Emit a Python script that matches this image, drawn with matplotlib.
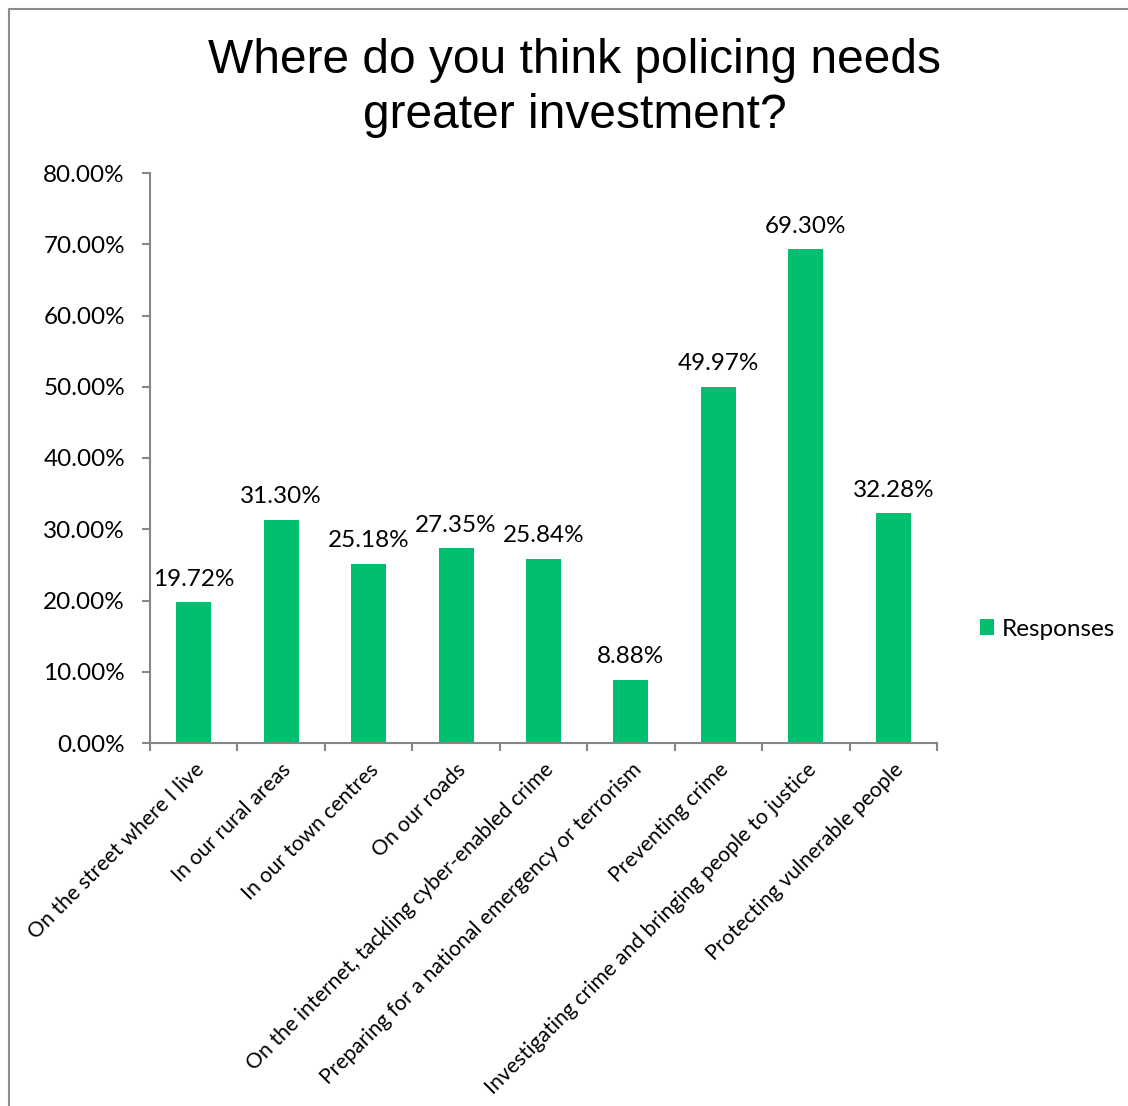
import matplotlib.pyplot as plt
import numpy as np
from matplotlib.lines import Line2D

categories = [
    "On the street where I live",
    "In our rural areas",
    "In our town centres",
    "On our roads",
    "On the internet, tackling cyber-enabled crime",
    "Preparing for a national emergency or terrorism",
    "Preventing crime",
    "Investigating crime and bringing people to justice",
    "Protecting vulnerable people",
]
responses = [19.72, 31.30, 25.18, 27.35, 25.84, 8.88, 49.97, 69.30, 32.28]
yticks = [0, 10, 20, 30, 40, 50, 60, 70, 80]

W, H = 1128, 1106
green = "#00BF6F"
grey = "#868686"
lab_font = "Lato"

fig = plt.figure(figsize=(W / 100, H / 100), dpi=100)
ax = fig.add_axes([150 / W, 1 - 743 / H, (937 - 150) / W, (743 - 173) / H])

x = np.arange(len(categories))
bars = ax.bar(x, responses, width=0.4, color=green, label="Responses")

for xi, v in zip(x, responses):
    ax.annotate(f"{v:.2f}%", (xi, v), xytext=(0, 9), textcoords="offset points",
                ha="center", va="bottom", fontsize=17.5, family=lab_font)

ax.set_xlim(-0.5, len(categories) - 0.5)
ax.set_ylim(0, 80)
ax.set_yticks(yticks)
ax.set_yticklabels([f"{t:.2f}%" for t in yticks], fontsize=17.5, family=lab_font)

# category boundaries as tick marks, labels at centers
ax.set_xticks(np.arange(len(categories) + 1) - 0.5)
ax.set_xticklabels([])
ax.set_xticks(x, minor=True)
ax.set_xticklabels(categories, minor=True, rotation=45, ha="right",
                   rotation_mode="anchor", fontsize=15.3, family=lab_font)
ax.tick_params(axis="x", which="minor", length=0, pad=12)
ax.tick_params(axis="both", which="major", length=6, color=grey, width=1.5)
ax.tick_params(axis="y", pad=12)

for s in ["top", "right"]:
    ax.spines[s].set_visible(False)
for s in ["left", "bottom"]:
    ax.spines[s].set_color(grey)
    ax.spines[s].set_linewidth(1.5)

fig.text(575 / W, 1 - 88 / H, "Where do you think policing needs\ngreater investment?",
         ha="center", va="center", fontsize=34.5, family="Liberation Sans", linespacing=1.3)

fig.legend(handles=[bars], labels=["Responses"], loc="center left",
           bbox_to_anchor=(958 / W, 1 - 629 / H), frameon=False,
           handlelength=0.6, handleheight=0.6, handletextpad=0.3,
           prop={"family": lab_font, "size": 17.5})

# chart area border (cropped on right and bottom)
fig.add_artist(Line2D([8.5 / W, 8.5 / W, 1.0], [0.0, 1 - 9 / H, 1 - 9 / H],
                      transform=fig.transFigure, color="#8c8c8c", lw=1.5))

fig.savefig("out.png", dpi=100)
